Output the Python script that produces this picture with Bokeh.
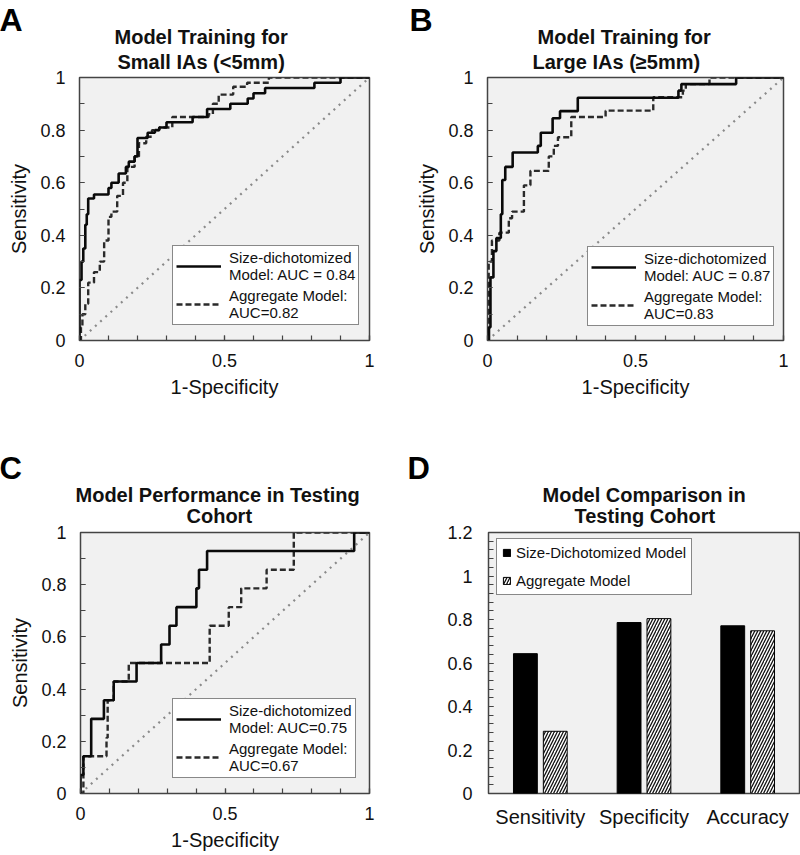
from bokeh.plotting import figure
from bokeh.layouts import row, column
from bokeh.models import (Range1d, FactorRange, FixedTicker, Title, Legend,
                          LegendItem, ColumnDataSource)
from bokeh.transform import dodge
from bokeh.embed import file_html
from bokeh.resources import INLINE

FONT = "Liberation Sans"

# ---------------- data ----------------
# Panel A: small IAs (<5mm) training ROC
a_size_fpr = [0, 0, 0.007, 0.013, 0.02, 0.025, 0.03, 0.05, 0.10, 0.11, 0.135, 0.16, 0.17, 0.19,
              0.20, 0.235, 0.26, 0.275, 0.30, 0.39, 0.44, 0.52, 0.58, 0.60, 0.64, 0.81, 0.90, 1.0]
a_size_tpr = [0, 0.23, 0.30, 0.35, 0.44, 0.48, 0.54, 0.555, 0.58, 0.60, 0.635, 0.66, 0.68, 0.70,
              0.77, 0.79, 0.80, 0.81, 0.83, 0.85, 0.88, 0.90, 0.92, 0.94, 0.96, 0.98, 1.0, 1.0]
a_agg_fpr = [0, 0.005, 0.01, 0.02, 0.03, 0.05, 0.07, 0.085, 0.10, 0.11, 0.13, 0.15, 0.165, 0.19,
             0.205, 0.23, 0.25, 0.275, 0.32, 0.445, 0.46, 0.48, 0.53, 0.578, 0.653, 1.0]
a_agg_tpr = [0, 0.05, 0.10, 0.14, 0.22, 0.26, 0.30, 0.38, 0.47, 0.49, 0.55, 0.60, 0.66, 0.70,
             0.75, 0.775, 0.80, 0.81, 0.85, 0.86, 0.90, 0.935, 0.965, 0.98, 1.0, 1.0]

# Panel B: large IAs (>=5mm) training ROC
b_size_fpr = [0, 0.005, 0.01, 0.02, 0.03, 0.045, 0.05, 0.06, 0.085, 0.17, 0.18, 0.22, 0.245,
              0.305, 0.645, 0.655, 0.84, 1.0]
b_size_tpr = [0, 0.05, 0.24, 0.34, 0.39, 0.48, 0.61, 0.66, 0.715, 0.74, 0.79, 0.845, 0.872,
              0.923, 0.95, 0.975, 1.0, 1.0]
b_agg_fpr = [0, 0.004, 0.015, 0.04, 0.072, 0.083, 0.123, 0.145, 0.207, 0.224, 0.238, 0.283,
             0.399, 0.56, 0.66, 0.67, 0.75, 1.0]
b_agg_tpr = [0, 0.30, 0.38, 0.41, 0.465, 0.49, 0.59, 0.645, 0.70, 0.74, 0.773, 0.85, 0.874,
             0.925, 0.95, 0.975, 1.0, 1.0]

# Panel C: testing cohort ROC
c_size_fpr = [0, 0, 0.01, 0.037, 0.081, 0.115, 0.194, 0.279, 0.308, 0.332, 0.401, 0.41, 0.438,
              0.947, 1.0]
c_size_tpr = [0, 0.071, 0.143, 0.286, 0.357, 0.429, 0.5, 0.571, 0.643, 0.714, 0.786, 0.857,
              0.929, 1.0, 1.0]
c_agg_fpr = [0, 0.01, 0.09, 0.094, 0.115, 0.167, 0.447, 0.513, 0.556, 0.644, 0.738, 1.0]
c_agg_tpr = [0, 0.143, 0.214, 0.357, 0.429, 0.5, 0.643, 0.714, 0.786, 0.857, 1.0, 1.0]

chance_line = [0, 1]

# Panel D: bar comparison
categories = ["Sensitivity", "Specificity", "Accuracy"]
size_dich_vals = [0.643, 0.786, 0.771]
aggregate_vals = [0.286, 0.804, 0.748]

# tick labels
roc_x_ticks = [0, 0.5, 1]
roc_x_labels = ["0", "0.5", "1"]
roc_y_ticks = [0, 0.2, 0.4, 0.6, 0.8, 1]
roc_y_labels = ["0", "0.2", "0.4", "0.6", "0.8", "1"]
roc_minor = [0, 0.1, 0.2, 0.3, 0.4, 0.5, 0.6, 0.7, 0.8, 0.9, 1.0]
bar_y_ticks = [0, 0.2, 0.4, 0.6, 0.8, 1.0, 1.2]
bar_y_labels = ["0", "0.2", "0.4", "0.6", "0.8", "1", "1.2"]
bar_minor = [round(i * 0.04, 2) for i in range(31)]

# texts
titles = {
    "A": ["Model Training for", "Small IAs (<5mm)"],
    "B": ["Model Training for", "Large IAs (\u22655mm)"],
    "C": ["Model Performance in Testing", "Cohort"],
    "D": ["Model Comparison in", "Testing Cohort"],
}
legend_texts = {
    "A": ["Size-dichotomized\nModel: AUC = 0.84", "Aggregate Model:\nAUC=0.82"],
    "B": ["Size-dichotomized\nModel: AUC = 0.87", "Aggregate Model:\nAUC=0.83"],
    "C": ["Size-dichotomized\nModel: AUC=0.75", "Aggregate Model:\nAUC=0.67"],
    "D": ["Size-Dichotomized Model", "Aggregate Model"],
}

FRAME_BG = "#f1f1f1"
EDGE = "#444444"


def style_axes(p):
    for ax in (p.xaxis[0], p.yaxis[0]):
        ax.axis_line_color = None
        ax.major_tick_in = 5
        ax.major_tick_out = 0
        ax.minor_tick_in = 5
        ax.minor_tick_out = 0
        ax.major_tick_line_color = EDGE
        ax.minor_tick_line_color = EDGE
        ax.major_tick_line_width = 1.2
        ax.minor_tick_line_width = 1.2
        ax.major_label_text_font = FONT
        ax.major_label_text_font_size = "18px"
        ax.major_label_text_color = "#111111"
        ax.axis_label_text_font = FONT
        ax.axis_label_text_font_size = "20px"
        ax.axis_label_text_font_style = "normal"
        ax.axis_label_text_color = "#111111"
    p.xgrid.visible = False
    p.ygrid.visible = False
    p.background_fill_color = FRAME_BG
    p.border_fill_color = "white"
    p.outline_line_color = EDGE
    p.outline_line_width = 1.5


def add_titles(p, key, offs, standoffs, letter_dx, letter_size, letter_valign):
    l1, l2 = titles[key]
    o1, o2 = offs
    s2, s1, s3 = standoffs
    # added first = closest to the frame
    p.add_layout(Title(text=l2, align="left", offset=o2, standoff=s2,
                       text_font=FONT, text_font_size="20px", text_font_style="bold",
                       text_color="#111111"), "above")
    p.add_layout(Title(text=l1, align="left", offset=o1, standoff=s1,
                       text_font=FONT, text_font_size="20px", text_font_style="bold",
                       text_color="#111111"), "above")
    p.add_layout(Title(text=key, align="left", offset=letter_dx, standoff=s3,
                       vertical_align=letter_valign,
                       text_font=FONT, text_font_size=letter_size, text_font_style="bold",
                       text_color="#000000"), "above")


def roc_panel(key, width, height, borders, sfpr, stpr, afpr, atpr, leg_loc):
    bl, br, bt, bb = borders
    p = figure(width=width, height=height, x_range=Range1d(0, 1), y_range=Range1d(0, 1),
               output_backend="svg", toolbar_location=None, title=None,
               min_border_left=bl, min_border_right=br, min_border_top=bt,
               min_border_bottom=bb)
    style_axes(p)
    p.xaxis.ticker = FixedTicker(ticks=roc_x_ticks, minor_ticks=roc_minor)
    p.yaxis.ticker = FixedTicker(ticks=roc_y_ticks, minor_ticks=roc_minor)
    p.xaxis.major_label_overrides = dict(zip(roc_x_ticks, roc_x_labels))
    p.yaxis.major_label_overrides = dict(zip(roc_y_ticks, roc_y_labels))
    p.xaxis.axis_label = "1-Specificity"
    p.yaxis.axis_label = "Sensitivity"
    p.xaxis.major_label_standoff = 13
    p.xaxis.axis_label_standoff = 6
    p.yaxis.major_label_standoff = 14
    p.yaxis.axis_label_standoff = 7

    p.line(chance_line, chance_line, line_color="#8a8a8a", line_width=2.2,
           line_dash="2 5")
    r_agg = p.step(afpr, atpr, mode="after", line_color="#2a2a2a", line_width=2.4,
                   line_dash="6 3")
    r_size = p.step(sfpr, stpr, mode="after", line_color="#0a0a0a", line_width=2.6)

    lt = legend_texts[key]
    leg = Legend(items=[LegendItem(label=lt[0], renderers=[r_size]),
                        LegendItem(label=lt[1], renderers=[r_agg])],
                 location=leg_loc, orientation="vertical",
                 label_text_font=FONT, label_text_font_size="15px",
                 label_text_color="#111111", label_text_line_height=1.3,
                 glyph_width=45, glyph_height=18, label_standoff=8,
                 padding=3, spacing=4, margin=0,
                 border_line_color="#111111", border_line_width=1.2,
                 background_fill_color="white", background_fill_alpha=1.0)
    p.add_layout(leg)
    return p


pA = roc_panel("A", 404, 427, (79, 35, 77, 86), a_size_fpr, a_size_tpr, a_agg_fpr, a_agg_tpr,
               (93, 15))
add_titles(pA, "A", (35, 38), (9, -7, -24), -80, "32px", "top")
pB = roc_panel("B", 396, 427, (83, 17, 77, 87), b_size_fpr, b_size_tpr, b_agg_fpr, b_agg_tpr,
               (100, 14))
add_titles(pB, "B", (50, 45), (9, -7, -24), -78, "32px", "top")
pC = roc_panel("C", 404, 426, (80, 35, 105, 58), c_size_fpr, c_size_tpr, c_agg_fpr, c_agg_tpr,
               (92, 15))
add_titles(pC, "C", (-5, 106), (11, -16, 8), -81, "31px", "bottom")

# Panel D
src = ColumnDataSource(dict(cat=categories, size=size_dich_vals, agg=aggregate_vals))
pD = figure(width=396, height=426, x_range=FactorRange(*categories), y_range=Range1d(0, 1.2),
            output_backend="svg", toolbar_location=None, title=None,
            min_border_left=84, min_border_right=1, min_border_top=105, min_border_bottom=59)
style_axes(pD)
pD.yaxis.ticker = FixedTicker(ticks=bar_y_ticks, minor_ticks=bar_minor)
pD.yaxis.major_label_overrides = dict(zip(bar_y_ticks, bar_y_labels))
pD.yaxis.major_label_standoff = 16
pD.xaxis.major_tick_in = 0
pD.xaxis.minor_tick_in = 0
pD.xaxis.major_label_text_font_size = "20px"
pD.xaxis.major_label_standoff = 12
pD.x_range.range_padding = 0

rb1 = pD.vbar(x=dodge("cat", -0.144, range=pD.x_range), top="size", width=0.23, source=src,
              fill_color="black", line_color="black", line_width=1)
rb2 = pD.vbar(x=dodge("cat", 0.144, range=pD.x_range), top="agg", width=0.23, source=src,
              fill_color="white", line_color="black", line_width=1,
              hatch_pattern="/", hatch_color="#111111", hatch_scale=6, hatch_weight=1.3)
legD = Legend(items=[LegendItem(label=legend_texts["D"][0], renderers=[rb1]),
                     LegendItem(label=legend_texts["D"][1], renderers=[rb2])],
              location=(8, 198), orientation="vertical",
              label_text_font=FONT, label_text_font_size="15px", label_text_color="#111111",
              glyph_width=9, glyph_height=9, label_standoff=5, padding=5, spacing=11,
              margin=0, border_line_color="#111111", border_line_width=1.2,
              background_fill_color="white", background_fill_alpha=1.0)
pD.add_layout(legD)
add_titles(pD, "D", (54, 86), (11, -16, 8), -81, "31px", "bottom")

layout = column(row(pA, pB), row(pC, pD))

open("out.html", "w").write(file_html(layout, INLINE))
